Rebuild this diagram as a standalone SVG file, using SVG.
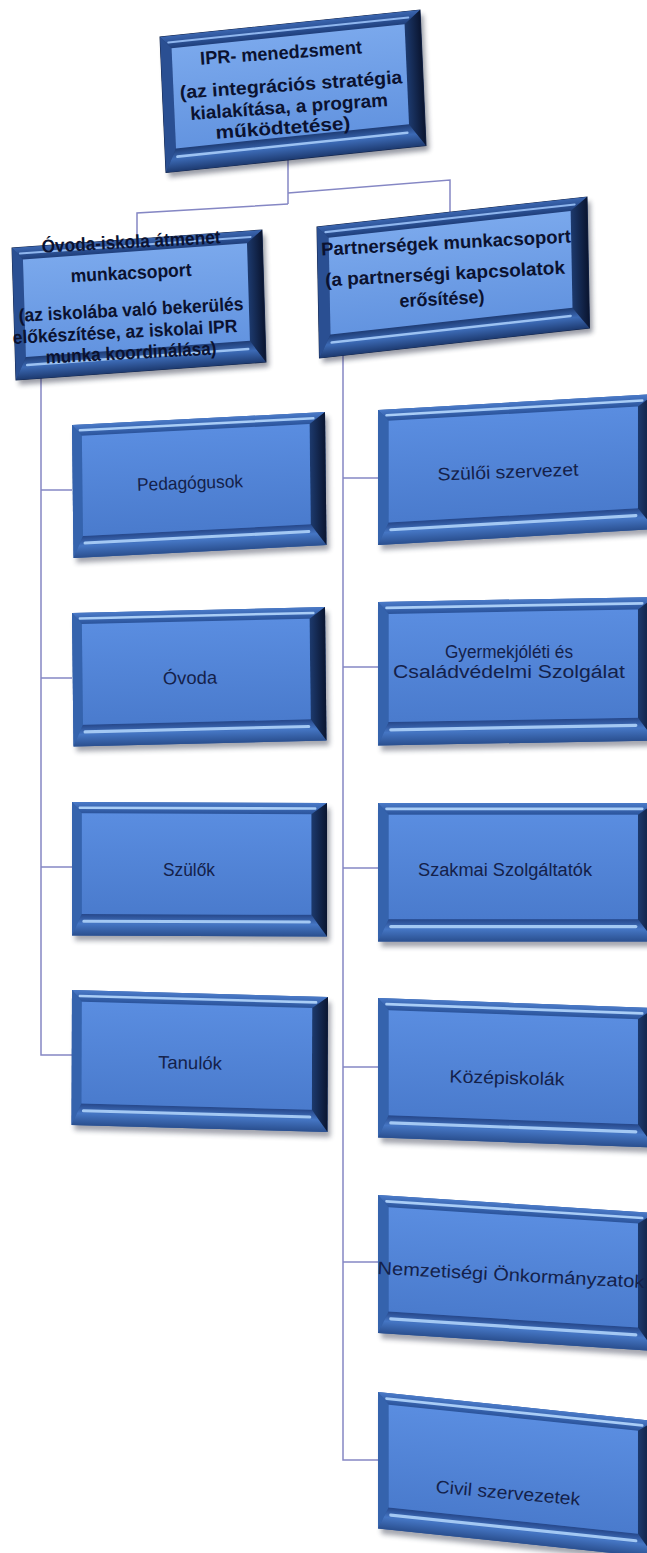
<svg xmlns="http://www.w3.org/2000/svg" width="647" height="1553" viewBox="0 0 647 1553">
<style>
.h{font-family:"Liberation Sans",Arial,sans-serif;font-weight:bold;font-size:18.5px;fill:#0b1230;text-anchor:middle}
.c{font-family:"Liberation Sans",Arial,sans-serif;font-size:18px;fill:#14214a;text-anchor:middle}
.ln{fill:none;stroke:#8587c4;stroke-width:1.5}
</style>
<defs>
<filter id="blur" x="-10%" y="-10%" width="120%" height="130%"><feGaussianBlur stdDeviation="2.5"/></filter>
<linearGradient id="gTop" x1="0" y1="0" x2="0" y2="1"><stop offset="0" stop-color="#4a7ac8"/><stop offset="1" stop-color="#2b549c"/></linearGradient>
<linearGradient id="gBot" x1="0" y1="0" x2="0" y2="1"><stop offset="0" stop-color="#26478a"/><stop offset="0.45" stop-color="#4576c4"/><stop offset="1" stop-color="#2a4f8f"/></linearGradient>
<linearGradient id="gRight" x1="0" y1="0" x2="1" y2="0"><stop offset="0" stop-color="#1d3a6e"/><stop offset="1" stop-color="#0a1530"/></linearGradient>
<linearGradient id="gFace" x1="0" y1="0" x2="0" y2="1"><stop offset="0" stop-color="#5a8de0"/><stop offset="1" stop-color="#4a7bcd"/></linearGradient>
<linearGradient id="hTop" x1="0" y1="0" x2="0" y2="1"><stop offset="0" stop-color="#3b66b0"/><stop offset="1" stop-color="#1f3f7c"/></linearGradient>
<linearGradient id="hBot" x1="0" y1="0" x2="0" y2="1"><stop offset="0" stop-color="#1e3c75"/><stop offset="0.45" stop-color="#3c6ab5"/><stop offset="1" stop-color="#1d3a70"/></linearGradient>
<linearGradient id="hFace" x1="0" y1="0" x2="0" y2="1"><stop offset="0" stop-color="#7aa8ec"/><stop offset="1" stop-color="#6394e0"/></linearGradient>
<g id="cbox">
<rect x="3" y="5" width="260" height="130" fill="#1c2438" opacity="0.4" filter="url(#blur)"/>
<rect width="260" height="130" fill="#2d5aa3"/>
<polygon points="0,0 260,0 244,11 10,11" fill="url(#gTop)"/>
<polygon points="0,0 10,11 10,109 0,130" fill="#3563ad"/>
<polygon points="0,130 10,109 244,109 260,130" fill="url(#gBot)"/>
<polygon points="260,0 244,11 244,109 260,130" fill="url(#gRight)"/>
<rect x="10" y="11" width="234" height="98" fill="url(#gFace)"/>
<line x1="8" y1="5.5" x2="248" y2="5.5" stroke="#a9cdf6" stroke-width="2.5" stroke-linecap="round"/>
<line x1="12" y1="116" x2="242" y2="116" stroke="#a3c8f3" stroke-width="3" stroke-linecap="round"/>
</g>
<g id="hbox">
<rect x="3" y="5" width="260" height="130" fill="#1c2438" opacity="0.45" filter="url(#blur)"/>
<rect width="260" height="130" fill="#223f7a" stroke="#14264c" stroke-width="1"/>
<polygon points="0,0 260,0 244,12 11,12" fill="url(#hTop)"/>
<polygon points="0,0 11,12 11,108 0,130" fill="#2a4f92"/>
<polygon points="0,130 11,108 244,108 260,130" fill="url(#hBot)"/>
<polygon points="260,0 244,12 244,108 260,130" fill="url(#gRight)"/>
<rect x="11" y="12" width="233" height="96" fill="url(#hFace)"/>
<line x1="8" y1="6" x2="248" y2="6" stroke="#8fb6ee" stroke-width="2" stroke-linecap="round"/>
<line x1="12" y1="116" x2="242" y2="116" stroke="#9cc2f2" stroke-width="2.5" stroke-linecap="round"/>
</g>
</defs>
<rect width="647" height="1553" fill="#ffffff"/>

<g id="connectors">
<path class="ln" d="M288,160 V204"/>
<path class="ln" d="M288,193 L450,180 V212"/>
<path class="ln" d="M288,204 L137,213 V239"/>
<path class="ln" d="M41,378 V1055 H72"/>
<path class="ln" d="M41,490 H72"/>
<path class="ln" d="M41,678 H72"/>
<path class="ln" d="M41,867 H72"/>
<path class="ln" d="M343,355 V1460 H378"/>
<path class="ln" d="M343,478 H378"/>
<path class="ln" d="M343,667 H378"/>
<path class="ln" d="M343,868 H378"/>
<path class="ln" d="M343,1067 H378"/>
<path class="ln" d="M343,1262 H378"/>
</g>

<g id="ipr">
<use href="#hbox" transform="matrix(1,-0.1038,0.0462,1.0423,160,37)"/>
<text class="h" x="281" y="59" textLength="162" lengthAdjust="spacingAndGlyphs" transform="rotate(-4 281 53)">IPR- menedzsment</text>
<text class="h" x="291" y="91" textLength="223" lengthAdjust="spacingAndGlyphs" transform="rotate(-4 291 85)">(az integrációs stratégia</text>
<text class="h" x="289" y="113" textLength="198" lengthAdjust="spacingAndGlyphs" transform="rotate(-4 289 107)">kialakítása, a program</text>
<text class="h" x="283" y="134" textLength="135" lengthAdjust="spacingAndGlyphs" transform="rotate(-4 283 128)">működtetése)</text>
</g>

<g id="ovoda-iskola">
<use href="#hbox" transform="matrix(0.9615,-0.0692,0.0308,1.0154,12,248)"/>
<text class="h" x="131" y="248" textLength="179" lengthAdjust="spacingAndGlyphs" transform="rotate(-3 131 242)">Óvoda-iskola átmenet</text>
<text class="h" x="131" y="279" textLength="121" lengthAdjust="spacingAndGlyphs" transform="rotate(-3 131 273)">munkacsoport</text>
<text class="h" x="131" y="316" textLength="225" lengthAdjust="spacingAndGlyphs" transform="rotate(-3 131 310)">(az iskolába való bekerülés</text>
<text class="h" x="125" y="338" textLength="225" lengthAdjust="spacingAndGlyphs" transform="rotate(-3 125 332)">előkészítése, az iskolai IPR</text>
<text class="h" x="131" y="359" textLength="171" lengthAdjust="spacingAndGlyphs" transform="rotate(-3 131 353)">munka koordinálása)</text>
</g>

<g id="partnersegek">
<use href="#hbox" transform="matrix(1.0385,-0.1154,0.0192,1.0077,317,227)"/>
<text class="h" x="446" y="249" textLength="250" lengthAdjust="spacingAndGlyphs" transform="rotate(-3 446 243)">Partnerségek munkacsoport</text>
<text class="h" x="445" y="280" textLength="240" lengthAdjust="spacingAndGlyphs" transform="rotate(-3 445 274)">(a partnerségi kapcsolatok</text>
<text class="h" x="442" y="305" textLength="85" lengthAdjust="spacingAndGlyphs" transform="rotate(-3 442 299)">erősítése)</text>
</g>

<g id="pedagogusok">
<use href="#cbox" transform="matrix(0.9731,-0.05,0.0115,1.0231,72,425)"/>
<text class="c" x="190" y="489" textLength="106" lengthAdjust="spacingAndGlyphs" transform="rotate(-2 190 483)">Pedagógusok</text>
</g>
<g id="ovoda">
<use href="#cbox" transform="matrix(0.9731,-0.0231,0.0115,1.0269,72,613)"/>
<text class="c" x="190" y="684" textLength="54" lengthAdjust="spacingAndGlyphs" transform="rotate(-1 190 678)">Óvoda</text>
</g>
<g id="szulok">
<use href="#cbox" transform="matrix(0.9808,0.0038,0,1.0269,72,802)"/>
<text class="c" x="189" y="876" textLength="52" lengthAdjust="spacingAndGlyphs">Szülők</text>
</g>
<g id="tanulok">
<use href="#cbox" transform="matrix(0.9846,0.0269,-0.0038,1.0385,72,990)"/>
<text class="c" x="190" y="1069" textLength="64" lengthAdjust="spacingAndGlyphs" transform="rotate(1 190 1063)">Tanulók</text>
</g>

<g id="szuloi-szervezet">
<use href="#cbox" transform="matrix(1.0654,-0.0615,0,1.0385,378,410)"/>
<text class="c" x="508" y="478" textLength="141" lengthAdjust="spacingAndGlyphs" transform="rotate(-2 508 472)">Szülői szervezet</text>
</g>
<g id="gyermekjoleti">
<use href="#cbox" transform="matrix(1.0654,-0.0192,0,1.1038,378,602)"/>
<text class="c" x="509" y="658" textLength="128" lengthAdjust="spacingAndGlyphs">Gyermekjóléti és</text>
<text class="c" x="509" y="678" textLength="232" lengthAdjust="spacingAndGlyphs">Családvédelmi Szolgálat</text>
</g>
<g id="szakmai">
<use href="#cbox" transform="matrix(1.0654,0,0,1.0654,378,803)"/>
<text class="c" x="505" y="876" textLength="174" lengthAdjust="spacingAndGlyphs">Szakmai Szolgáltatók</text>
</g>
<g id="kozepiskolak">
<use href="#cbox" transform="matrix(1.0654,0.0385,0,1.0731,378,998)"/>
<text class="c" x="507" y="1084" textLength="115" lengthAdjust="spacingAndGlyphs" transform="rotate(1.5 507 1078)">Középiskolák</text>
</g>
<g id="nemzetisegi">
<use href="#cbox" transform="matrix(1.0654,0.0692,0,1.0615,378,1195)"/>
<text class="c" x="511" y="1281" textLength="267" lengthAdjust="spacingAndGlyphs" transform="rotate(3 511 1275)">Nemzetiségi Önkormányzatok</text>
</g>
<g id="civil">
<use href="#cbox" transform="matrix(1.0654,0.1115,0,1.05,378,1392)"/>
<text class="c" x="508" y="1499" textLength="145" lengthAdjust="spacingAndGlyphs" transform="rotate(5 508 1493)">Civil szervezetek</text>
</g>
</svg>
